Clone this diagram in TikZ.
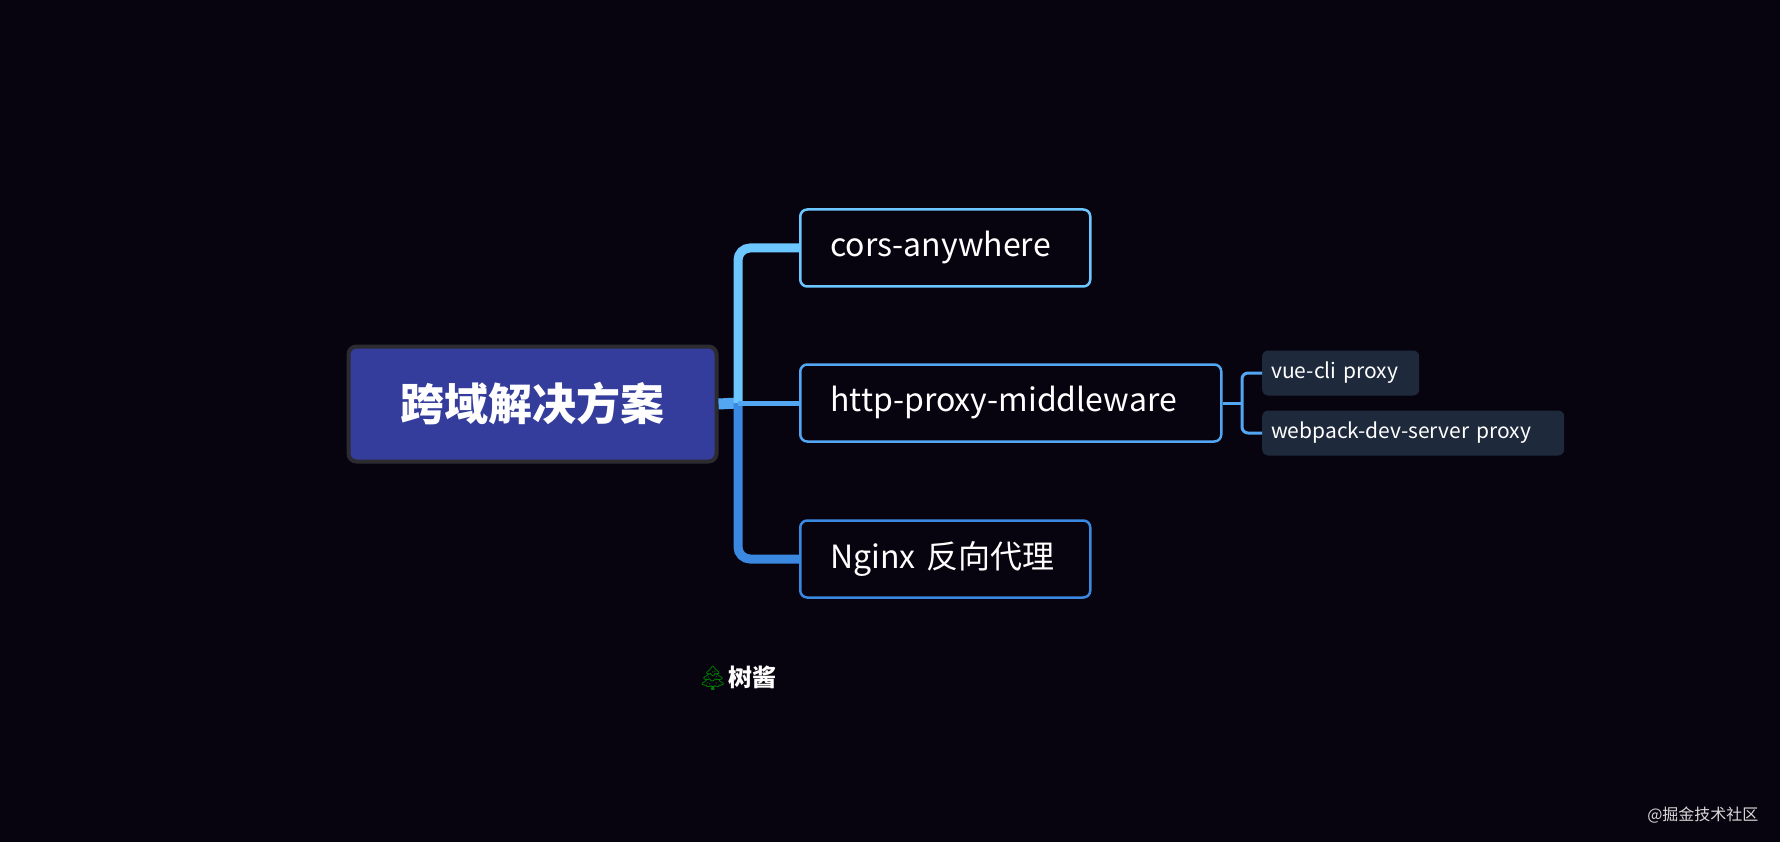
\documentclass[tikz,border=0pt]{standalone}
\usepackage{fontspec}
\setmainfont{Noto Sans CJK SC}
\newfontfamily\emo{Noto Emoji}
\definecolor{bg}{HTML}{07040F}
\definecolor{rootf}{HTML}{343C9C}
\definecolor{rootb}{HTML}{2C2C30}
\definecolor{cA}{HTML}{6CC6FF}
\definecolor{cB}{HTML}{52A6F2}
\definecolor{cC}{HTML}{3A88E0}
\definecolor{subf}{HTML}{1E293B}
\tikzset{
 main/.style={draw,line width=2.5pt,rounded corners=7pt,fill=bg,text=white,anchor=west,inner xsep=30pt,align=left,font=\fontsize{32}{36}\selectfont,minimum height=77pt},
 sub/.style={fill=subf,rounded corners=6pt,text=white,anchor=west,inner xsep=9pt,align=left,font=\fontsize{21}{24}\selectfont,minimum height=45pt},
 br/.style={line width=9pt,rounded corners=12pt},
}
\begin{document}
\begin{tikzpicture}[x=1pt,y=-1pt]
\fill[bg] (0,0) rectangle (1780,842);
\useasboundingbox (0,0) rectangle (1780,842);
\node[draw=rootb,line width=4pt,fill=rootf,rounded corners=8pt,minimum width=368pt,minimum height=115pt,text=white,font=\bfseries\fontsize{44}{50}\selectfont] (root) at (532.5,404) {跨域解决方案};
\node[main,draw=cA,text width=230pt] (a) at (799,248) {cors-anywhere};
\node[main,draw=cB,text width=361pt] (b) at (799,403) {http-proxy-middleware};
\node[main,draw=cC,text width=230pt] (c) at (799,559) {Nginx 反向代理};
\node[sub,text width=139pt] (s1) at (1262,373) {vue-cli proxy};
\node[sub,text width=284pt] (s2) at (1262,433) {webpack-dev-server proxy};
\coordinate (j) at (738,403);
\draw[cB,line width=11pt] (root.east) -- (j);
\draw[br,cA] (j) |- (a.west);
\draw[br,cC] (j) |- (c.west);
\draw[cB,line width=5pt] (j) -- (b.west);
\coordinate (k) at (1242,403);
\draw[cB,line width=3pt] (b.east) -- (k);
\draw[cB,line width=3pt,rounded corners=6pt] (k) |- (s1.west);
\draw[cB,line width=3pt,rounded corners=6pt] (k) |- (s2.west);
\node[text=white,font=\bfseries\fontsize{24}{28}\selectfont,anchor=west] (sig) at (694,678) {{\emo\textcolor{green!50!black}{🌲}}树酱};
\node[text=white!85!black,font=\fontsize{16}{20}\selectfont,anchor=east] (wm) at (1762,815) {@掘金技术社区};
\end{tikzpicture}
\end{document}
